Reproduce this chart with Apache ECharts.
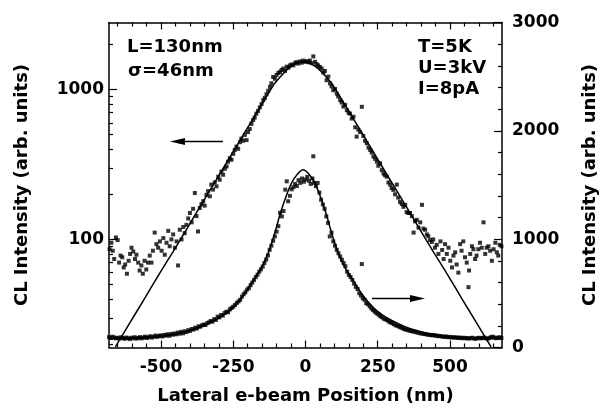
<!DOCTYPE html>
<html><head><meta charset="utf-8">
<script src="https://cdn.jsdelivr.net/npm/echarts@6/dist/echarts.min.js"></script>
<style>html,body{margin:0;padding:0;background:#fff}#c{width:608px;height:414px}</style>
</head><body><div id="c"></div>
<script>
// ---- axis ticks / labels ----
const xMajorTicks = [-500, -250, 0, 250, 500];
const xMinorTicks = [-650, -600, -550, -450, -400, -350, -300, -200, -150, -100, -50, 50, 100, 150, 200, 300, 350, 400, 450, 550, 600, 650];
const leftMajorTicks = [100, 1000];
const leftMinorTicks = [20, 30, 40, 50, 60, 70, 80, 90, 200, 300, 400, 500, 600, 700, 800, 900, 2000];
const rightMajorTicks = [0, 1000, 2000, 3000];

// ---- upper data (log scale, left axis): [position nm, intensity] ----
const logScatter = [
[-678,86],[-672,95],[-667,84],[-662,74],[-656,103],[-650,99],[-645,70],[-640,78],[-634,76],[-629,65],[-624,68],[-618,59],[-612,72],[-607,80],[-602,88],[-596,83],[-590,74],[-585,79],[-579,70],[-574,62],[-568,67],[-563,59],[-557,72],[-551,63],[-545,70],[-539,78],[-533,70],[-528,84],[-522,111],[-516,93],[-510,88],[-504,97],[-498,84],[-492,102],[-487,79],[-481,95],[-475,114],[-470,90],[-464,100],[-458,108],[-452,88],[-446,97],[-441,67],[-435,116],[-429,100],[-423,121],[-418,110],[-412,125],[-406,138],[-400,150],[-394,130],[-389,160],[-383,204],[-377,143],[-372,113],[-366,162],[-360,172],[-354,180],[-349,168],[-343,198],[-337,210],[-331,194],[-326,232],[-320,215],[-314,240],[-308,226],[-302,262],[-297,250],[-291,283],[-285,270],[-279,296],[-273,307],[-268,330],[-262,348],[-256,340],[-250,372],[-245,395],[-239,416],[-233,402],[-227,445],[-222,470],[-216,455],[-210,498],[-204,460],[-199,520],[-193,545],[-187,590],[-181,626],[-176,650],[-170,690],[-164,720],[-158,760],[-152,800],[-146,850],[-141,880],[-135,930],[-129,980],[-123,1040],[-118,1100],[-112,1213],[-106,1180],[-100,1250],[-94,1290],[-88,1309],[-83,1350],[-77,1380],[-71,1330],[-65,1420],[-59,1400],[-54,1449],[-48,1470],[-42,1450],[-36,1500],[-31,1525],[-25,1490],[-19,1540],[-13,1510],[-8,1560],[-2,1530],[4,1545],[10,1520],[15,1560],[21,1500],[27,1664],[33,1530],[38,1480],[44,1450],[50,1412],[56,1380],[62,1300],[67,1330],[73,1153],[79,1220],[85,1100],[90,1050],[96,990],[102,1010],[108,940],[113,900],[120,850],[125,820],[131,770],[137,790],[143,728],[149,700],[154,690],[160,640],[166,658],[172,560],[177,485],[183,540],[189,520],[195,767],[200,490],[206,455],[212,438],[218,410],[224,395],[229,380],[235,357],[241,345],[247,330],[252,310],[258,322],[264,290],[270,275],[275,268],[281,262],[287,240],[293,232],[298,220],[304,214],[310,200],[316,232],[321,190],[327,178],[333,172],[339,165],[345,170],[350,152],[356,150],[362,150],[368,143],[374,111],[379,132],[385,135],[391,120],[397,130],[403,170],[408,118],[414,116],[420,108],[425,105],[431,99],[437,96],[442,100],[448,88],[454,92],[460,80],[467,97],[473,85],[478,74],[483,93],[489,80],[495,88],[501,72],[507,65],[512,78],[518,82],[523,68],[529,60],[535,93],[540,84],[546,97],[552,76],[558,70],[564,48],[566,62],[570,80],[576,90],[581,86],[587,74],[592,78],[598,86],[604,95],[610,88],[616,130],[622,80],[627,88],[633,90],[639,84],[645,72],[651,86],[657,95],[662,82],[667,78],[672,92],[678,90]
];
const logFit = [
[-658,19.2],[-608,27.7],[-558,40],[-508,58],[-458,83],[-408,120],[-358,174],[-308,251],[-258,363],[-208,525],[-158,760],[-133,910],[-108,1090],[-83,1240],[-58,1390],[-33,1490],[-8,1530],[17,1490],[42,1390],[67,1240],[92,1090],[117,910],[142,760],[192,525],[242,363],[292,251],[342,174],[392,120],[442,83],[492,58],[542,40],[592,27.7],[642,19.2]
];

// ---- lower data (linear scale, right axis): [position nm, intensity] ----
const linScatter = [
[-680,95],[-674,88],[-668,100],[-662,92],[-656,85],[-650,90],[-644,82],[-638,95],[-632,88],[-626,80],[-620,92],[-614,86],[-608,78],[-602,90],[-597,85],[-591,95],[-585,82],[-579,88],[-573,96],[-567,84],[-561,92],[-555,100],[-549,88],[-543,95],[-537,104],[-531,92],[-525,100],[-519,110],[-513,98],[-507,106],[-501,112],[-495,102],[-489,116],[-483,110],[-477,122],[-471,108],[-465,125],[-459,118],[-453,130],[-447,122],[-441,138],[-435,128],[-430,145],[-424,131],[-418,150],[-412,142],[-406,160],[-400,152],[-394,170],[-388,165],[-382,182],[-376,175],[-370,195],[-364,192],[-358,205],[-352,212],[-346,208],[-340,225],[-334,232],[-328,245],[-322,238],[-316,262],[-310,255],[-304,285],[-298,278],[-292,300],[-286,295],[-280,318],[-274,330],[-268,325],[-262,352],[-256,365],[-250,377],[-244,392],[-238,410],[-232,425],[-226,440],[-220,470],[-214,492],[-208,510],[-202,535],[-196,548],[-190,575],[-184,600],[-178,624],[-172,650],[-166,672],[-160,700],[-154,722],[-148,747],[-142,780],[-136,812],[-130,850],[-124,902],[-118,940],[-112,985],[-106,1025],[-100,1070],[-94,1120],[-88,1244],[-82,1210],[-76,1260],[-70,1457],[-65,1534],[-60,1350],[-54,1400],[-48,1460],[-42,1480],[-36,1510],[-30,1490],[-24,1545],[-18,1520],[-12,1560],[-6,1530],[0,1550],[6,1575],[12,1540],[18,1510],[24,1560],[27,1765],[30,1520],[36,1490],[42,1519],[48,1430],[54,1364],[60,1320],[66,1280],[72,1210],[78,1150],[84,1025],[90,1060],[96,980],[102,940],[108,902],[114,870],[120,840],[126,810],[132,779],[138,750],[144,700],[150,670],[156,650],[162,624],[168,590],[174,560],[180,540],[186,501],[192,480],[195,770],[198,455],[204,440],[210,409],[216,400],[222,380],[228,360],[234,345],[240,330],[246,316],[252,305],[258,290],[264,280],[270,268],[276,260],[282,254],[288,240],[294,232],[300,225],[306,215],[312,205],[318,200],[324,192],[330,185],[336,178],[342,170],[348,165],[354,162],[360,155],[366,152],[372,148],[378,146],[384,140],[390,138],[396,132],[402,130],[408,126],[414,124],[420,120],[426,118],[432,116],[438,112],[444,116],[450,108],[456,110],[462,104],[468,106],[474,100],[480,98],[486,102],[492,95],[498,98],[504,92],[510,96],[516,90],[522,94],[528,88],[534,92],[540,86],[546,90],[552,85],[558,88],[564,82],[570,86],[576,90],[582,84],[588,80],[594,86],[600,90],[606,84],[612,88],[618,92],[624,85],[630,80],[636,88],[642,95],[648,100],[654,92],[660,86],[666,90],[672,95],[678,88]
];
const linFit = [
[-680,80],[-658,82],[-608,85],[-558,90],[-508,100],[-458,118],[-408,150],[-358,195],[-308,260],[-283,300],[-258,350],[-233,420],[-208,505],[-188,590],[-168,670],[-148,760],[-128,880],[-108,1040],[-88,1230],[-68,1390],[-48,1520],[-28,1600],[-8,1640],[12,1600],[32,1520],[52,1390],[72,1230],[92,1040],[112,880],[132,760],[152,670],[172,590],[192,505],[217,420],[242,350],[267,300],[292,260],[342,195],[392,150],[442,118],[492,100],[542,90],[592,85],[642,82],[680,80]
];

const xRange = [-680, 680];
const leftRange = [19, 2800];
const rightRange = [0, 3000];

const FONT = 'DejaVu Sans';
const black = '#000';
const labelStyle = {color: black, fontFamily: FONT, fontWeight: 'bold', fontSize: 17};
const nameStyle = {color: black, fontFamily: FONT, fontWeight: 'bold', fontSize: 18};
const lineStyle = {color: black, width: 1.5};
const plain = v => String(v);

function xAxisDef(pos, ticks, len, showLine, showLabel) {
  return {
    type: 'value', position: pos, min: xRange[0], max: xRange[1],
    axisLine: {show: showLine, lineStyle: lineStyle, onZero: false},
    axisTick: {show: true, inside: true, length: len, customValues: ticks, lineStyle: {color: black, width: 1.2}},
    axisLabel: showLabel ? Object.assign({show: true, margin: 12, customValues: xMajorTicks, formatter: plain}, labelStyle) : {show: false},
    splitLine: {show: false}
  };
}

const chart = echarts.init(document.getElementById('c'), null, {renderer: 'canvas'});
chart.setOption({
  animation: false,
  backgroundColor: '#fff',
  grid: {left: 109, right: 106, top: 22.5, bottom: 66.5, containLabel: false},
  xAxis: [
    Object.assign(xAxisDef('bottom', xMajorTicks, 7, true, true), {
      name: 'Lateral e-beam Position (nm)', nameLocation: 'middle', nameGap: 40, nameTextStyle: nameStyle
    }),
    xAxisDef('bottom', xMinorTicks, 4, false, false),
    xAxisDef('top', xMajorTicks, 7, true, false),
    xAxisDef('top', xMinorTicks, 4, false, false)
  ],
  yAxis: [
    {
      type: 'log', logBase: 10, position: 'left', min: leftRange[0], max: leftRange[1],
      name: 'CL Intensity (arb. units)', nameLocation: 'middle', nameGap: 78, nameTextStyle: nameStyle,
      axisLine: {show: true, onZero: false, lineStyle: lineStyle},
      axisTick: {show: true, inside: true, length: 8, customValues: leftMajorTicks, lineStyle: {color: black, width: 1.2}},
      axisLabel: Object.assign({margin: 5, customValues: leftMajorTicks, formatter: plain}, labelStyle),
      splitLine: {show: false}, minorTick: {show: false}
    },
    {
      type: 'value', position: 'right', min: rightRange[0], max: rightRange[1], interval: 1000,
      name: 'CL Intensity (arb. units)', nameLocation: 'middle', nameGap: 79, nameTextStyle: nameStyle,
      axisLine: {show: true, onZero: false, lineStyle: lineStyle},
      axisTick: {show: true, inside: true, length: 8, lineStyle: {color: black, width: 1.2}},
      minorTick: {show: true, splitNumber: 5, length: 4, lineStyle: {color: black, width: 1.2}},
      axisLabel: Object.assign({margin: 10, formatter: plain}, labelStyle),
      splitLine: {show: false}
    },
    {
      type: 'log', logBase: 10, position: 'left', min: leftRange[0], max: leftRange[1],
      axisLine: {show: false, onZero: false},
      axisTick: {show: true, inside: true, length: 4, customValues: leftMinorTicks, lineStyle: {color: black, width: 1.2}},
      axisLabel: {show: false}, splitLine: {show: false}
    }
  ],
  series: [
    {type: 'scatter', xAxisIndex: 0, yAxisIndex: 0, data: logScatter, symbol: 'rect', symbolSize: 4,
     itemStyle: {color: black}, silent: true},
    {type: 'line', xAxisIndex: 0, yAxisIndex: 0, data: logFit, showSymbol: false, symbol: 'none',
     lineStyle: {color: black, width: 1.5}, smooth: 0.15, silent: true},
    {type: 'scatter', xAxisIndex: 0, yAxisIndex: 1, data: linScatter, symbol: 'rect', symbolSize: 4,
     itemStyle: {color: black}, silent: true},
    {type: 'line', xAxisIndex: 0, yAxisIndex: 1, data: linFit, showSymbol: false, symbol: 'none',
     lineStyle: {color: black, width: 1.5}, smooth: 0.3, silent: true}
  ],
  graphic: [
    {type: 'text', left: 127, top: 38, style: {text: 'L=130nm', font: 'bold 18px "DejaVu Sans"', fill: black}},
    {type: 'text', left: 128, top: 62, style: {text: 'σ=46nm', font: 'bold 18px "DejaVu Sans"', fill: black}},
    {type: 'text', left: 418, top: 38, style: {text: 'T=5K', font: 'bold 18px "DejaVu Sans"', fill: black}},
    {type: 'text', left: 418, top: 59, style: {text: 'U=3kV', font: 'bold 18px "DejaVu Sans"', fill: black}},
    {type: 'text', left: 418, top: 80, style: {text: 'I=8pA', font: 'bold 18px "DejaVu Sans"', fill: black}},
    {type: 'line', shape: {x1: 182, y1: 141.5, x2: 223, y2: 141.5}, style: {stroke: black, lineWidth: 1.5}},
    {type: 'polygon', shape: {points: [[170, 141.5], [185, 138], [185, 145]]}, style: {fill: black}},
    {type: 'line', shape: {x1: 372, y1: 298.5, x2: 413, y2: 298.5}, style: {stroke: black, lineWidth: 1.5}},
    {type: 'polygon', shape: {points: [[425, 298.5], [410, 295], [410, 302]]}, style: {fill: black}}
  ]
});
</script></body></html>
